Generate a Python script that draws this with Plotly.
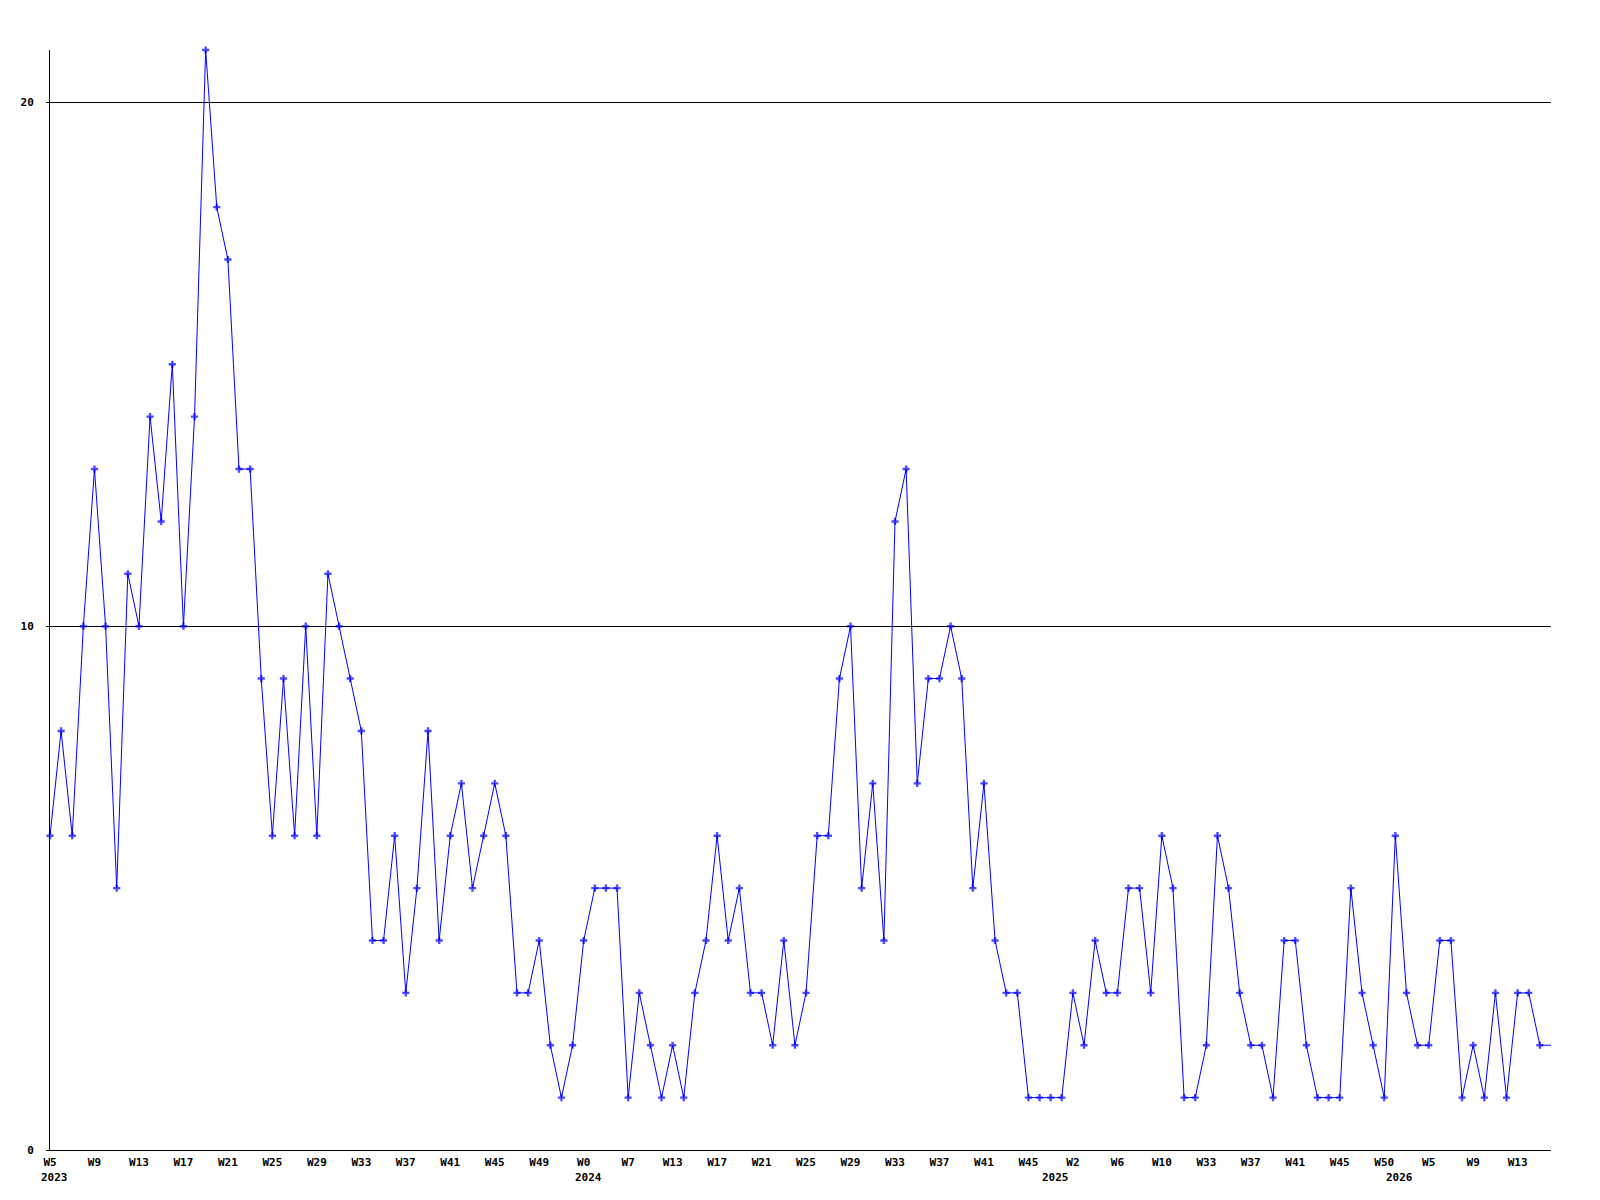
import plotly.graph_objects as go

# Weekly counts (one point per week in the series)
values = [6, 8, 6, 10, 13, 10, 5, 11, 10, 14,
          12, 15, 10, 14, 21, 18, 17, 13, 13, 9,
          6, 9, 6, 10, 6, 11, 10, 9, 8, 4,
          4, 6, 3, 5, 8, 4, 6, 7, 5, 6,
          7, 6, 3, 3, 4, 2, 1, 2, 4, 5,
          5, 5, 1, 3, 2, 1, 2, 1, 3, 4,
          6, 4, 5, 3, 3, 2, 4, 2, 3, 6,
          6, 9, 10, 5, 7, 4, 12, 13, 7, 9,
          9, 10, 9, 5, 7, 4, 3, 3, 1, 1,
          1, 1, 3, 2, 4, 3, 3, 5, 5, 3,
          6, 5, 1, 1, 2, 6, 5, 3, 2, 2,
          1, 4, 4, 2, 1, 1, 1, 5, 3, 2,
          1, 6, 3, 2, 2, 4, 4, 1, 2, 1,
          3, 1, 3, 3, 2, 2]

# Week tick labels (every 4th point)
week_labels = ["W5", "W9", "W13", "W17", "W21", "W25", "W29", "W33", "W37", "W41", "W45", "W49",
               "W0", "W7", "W13", "W17", "W21", "W25", "W29", "W33", "W37", "W41", "W45",
               "W2", "W6", "W10", "W33", "W37", "W41", "W45", "W50",
               "W5", "W9", "W13"]
tick_step = 4

# Year labels and the point index where each year starts
years = ["2023", "2024", "2025", "2026"]
year_start_index = [0, 48, 90, 121]

y_ticks = [0, 10, 20]

n = len(values)
x = list(range(n))
FONT = "DejaVu Sans Mono"

fig = go.Figure()
fig.add_trace(go.Scatter(
    x=x, y=values, mode="lines+markers",
    line=dict(color="#0000ff", width=1),
    marker=dict(symbol="cross", size=[6] * (n - 1) + [0], color="#0000ff",
                line=dict(width=0)),
    cliponaxis=False, showlegend=False, hoverinfo="x+y",
))

for yr, idx in zip(years, year_start_index):
    fig.add_annotation(
        x=idx, y=0, xref="x", yref="paper", text=yr, showarrow=False,
        xanchor="left", yanchor="middle", xshift=-11, yshift=-27,
        font=dict(family=FONT, size=11, color="black", weight="bold"),
    )

fig.update_layout(
    width=1584, height=1184,
    margin=dict(l=42, r=41, t=42, b=42),
    paper_bgcolor="white", plot_bgcolor="white",
    xaxis=dict(
        range=[0, n - 1], showgrid=False, zeroline=False, automargin=False,
        showline=True, linecolor="black", linewidth=1,
        ticks="", tickvals=list(range(0, n, tick_step))[:len(week_labels)],
        ticktext=week_labels, tickangle=0, ticklabelstandoff=2,
        tickfont=dict(family=FONT, size=11, color="black", weight="bold"),
    ),
    yaxis=dict(
        range=[0, 21], tickvals=y_ticks, ticktext=[str(v) for v in y_ticks],
        showgrid=True, gridcolor="black", gridwidth=1, zeroline=False,
        automargin=False,
        showline=True, linecolor="black", linewidth=1,
        ticks="outside", ticklen=3, tickcolor="black", tickwidth=1,
        ticklabelstandoff=10,
        tickfont=dict(family=FONT, size=11, color="black", weight="bold"),
    ),
)

fig.write_html("out.html")
